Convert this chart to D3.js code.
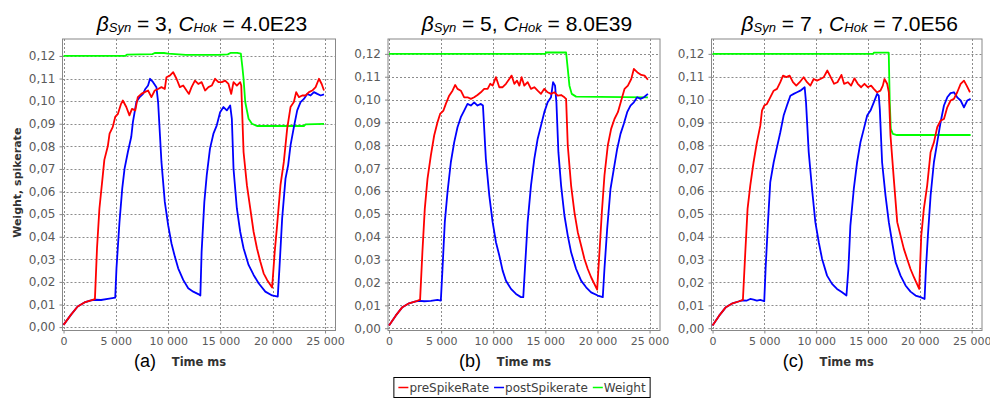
<!DOCTYPE html>
<html>
<head>
<meta charset="utf-8">
<script src="https://cdn.jsdelivr.net/npm/d3@7"></script>
<style>
body { margin: 0; background: #fff; }
svg { display: block; font-family: "DejaVu Sans", sans-serif; }
</style>
</head>
<body>
<div id="chart"></div>
<script>
// ticks, labels
const xTicks = [0, 5000, 10000, 15000, 20000, 25000];
const yTicks = [0, 0.01, 0.02, 0.03, 0.04, 0.05, 0.06, 0.07, 0.08, 0.09, 0.10, 0.11, 0.12];
const seriesNames = ["preSpikeRate", "postSpikerate", "Weight"];
const seriesColors = ["#ff0000", "#0000ff", "#00ff00"];
const panelLabels = ["(a)", "(b)", "(c)"];
const betaSyn = ["3", "5", "7 "];
const cHok = ["4.0E23", "8.0E39", "7.0E56"];

// panel (a)  [time ms, value]
const preA = [[0,0.0010],[700,0.0054],[1350,0.0091],[2000,0.0109],[2630,0.0118],[3000,0.0124],
  [3200,0.0350],[3430,0.0525],[3750,0.0670],[3900,0.0740],[4230,0.0800],[4400,0.0856],[4700,0.0885],[4940,0.0930],[5200,0.0944],[5500,0.0988],[5670,0.1003],[6000,0.0974],[6300,0.0937],[6540,0.0966],[6860,0.0959],[7100,0.1018],[7440,0.1032],[7760,0.1040],[8080,0.1047],[8400,0.1018],[8720,0.1047],[9040,0.1054],[9360,0.1062],[9680,0.1054],[9840,0.1106],[10160,0.1113],[10480,0.1128],[10800,0.1099],[11120,0.1062],[11440,0.1069],[11760,0.1047],[11990,0.1032],[12240,0.1062],[12560,0.1091],[12880,0.1076],[13200,0.1084],[13530,0.1047],[13850,0.1062],[14170,0.1069],[14490,0.1099],[14810,0.1084],[15130,0.1084],[15450,0.1091],[15770,0.1076],[16030,0.1032],[16250,0.1084],[16570,0.1069],[16890,0.1084],[16990,0.1069],
  [17210,0.0775],[17530,0.0628],[17850,0.0525],[18170,0.0422],[18490,0.0349],[18810,0.0290],[19130,0.0238],[19460,0.0209],[19940,0.0175],
  [20190,0.0334],[20420,0.0451],[20740,0.0628],[21060,0.0731],[21380,0.0878],[21700,0.0974],[22020,0.0996],[22240,0.1040],[22500,0.1018],[22820,0.1025],[23140,0.1025],[23460,0.1040],[23780,0.1047],[24100,0.1062],[24420,0.1099],[24680,0.1076],[24900,0.1047]];
const postA = [[0,0.0010],[700,0.0054],[1350,0.0091],[2000,0.0109],[2630,0.0118],[3000,0.0121],[3590,0.0120],[4230,0.0125],[4940,0.0130],
  [5060,0.0260],[5350,0.0466],[5610,0.0613],[5830,0.0700],[6150,0.0775],[6470,0.0841],[6630,0.0907],[6960,0.0996],[7280,0.1018],[7600,0.1032],[7820,0.1054],[8080,0.1069],[8270,0.1099],[8560,0.1084],[8880,0.1062],[9040,0.0996],
  [9360,0.0731],[9680,0.0554],[10000,0.0451],[10320,0.0370],[10640,0.0312],[10960,0.0260],[11440,0.0209],[11920,0.0172],[12400,0.0157],[12880,0.0146],[13080,0.0140],
  [13200,0.0334],[13460,0.0554],[13690,0.0672],[14000,0.0790],[14330,0.0856],[14650,0.0893],[14970,0.0951],[15290,0.0974],[15610,0.0959],[15930,0.0981],[16090,0.0922],
  [16250,0.0701],[16570,0.0525],[16890,0.0422],[17210,0.0349],[17690,0.0275],[18170,0.0231],[18650,0.0194],[19290,0.0157],[19940,0.0140],[20480,0.0135],
  [20640,0.0260],[20900,0.0481],[21220,0.0657],[21470,0.0716],[21700,0.0804],[22020,0.0885],[22340,0.0959],[22660,0.0996],[22980,0.1010],[23300,0.1032],[23620,0.1025],[23940,0.1040],[24260,0.1032],[24580,0.1025],[24900,0.1030]];
const weightA = [[0,0.1200],[5900,0.1200],[6050,0.1206],[8500,0.1208],[8720,0.1213],[9600,0.1213],[10000,0.1210],[11700,0.1205],[14800,0.1205],[15700,0.1207],[16000,0.1214],[16600,0.1214],[16950,0.1210],[17100,0.1150],[17210,0.1099],[17370,0.0996],[17690,0.0922],[18010,0.0900],[18490,0.0890],[22980,0.0890],[23140,0.0897],[24900,0.0899]];

// panel (b)
const preB = [[0,0.0012],[640,0.0055],[1280,0.0092],[1920,0.0109],[2560,0.0117],[2980,0.0125],
  [3200,0.0332],[3430,0.0522],[3690,0.0653],[4010,0.0755],[4330,0.0843],[4650,0.0901],[4900,0.0937],[5220,0.0952],[5450,0.0981],[5770,0.1017],[6090,0.1039],[6350,0.1064],[6570,0.1047],[6890,0.1039],[7210,0.1010],[7530,0.1010],[7850,0.1003],[8170,0.1010],[8490,0.1020],[8810,0.1032],[9130,0.1047],[9460,0.1047],[9710,0.1069],[9940,0.1061],[10260,0.1098],[10580,0.1054],[10900,0.1054],[11220,0.1069],[11540,0.1090],[11760,0.1105],[12020,0.1069],[12280,0.1083],[12500,0.1061],[12720,0.1098],[12980,0.1061],[13300,0.1076],[13620,0.1047],[13940,0.1054],[14260,0.1039],[14580,0.1025],[14900,0.1047],[15220,0.1032],[15540,0.1025],[15870,0.1032],[16190,0.1017],[16510,0.1020],[16830,0.1010],[16990,0.1003],
  [17150,0.0799],[17470,0.0624],[17790,0.0507],[18110,0.0420],[18430,0.0362],[18750,0.0303],[19070,0.0259],[19390,0.0223],[19970,0.0169],
  [20190,0.0332],[20420,0.0507],[20670,0.0668],[20990,0.0799],[21310,0.0872],[21630,0.0915],[21960,0.0945],[22280,0.0996],[22600,0.1047],[22920,0.1061],[23240,0.1090],[23490,0.1134],[23880,0.1117],[24200,0.1108],[24520,0.1105],[24840,0.1087]];
const postB = [[0,0.0012],[640,0.0055],[1280,0.0092],[1920,0.0109],[2560,0.0117],[2980,0.0120],[3370,0.0118],[4010,0.0120],[4650,0.0124],[4970,0.0121],
  [5130,0.0260],[5350,0.0464],[5610,0.0595],[5930,0.0726],[6250,0.0813],[6570,0.0879],[6890,0.0923],[7210,0.0952],[7530,0.0981],[7850,0.0974],[8170,0.0988],[8490,0.0974],[8810,0.0981],[9010,0.0974],
  [9290,0.0741],[9620,0.0580],[9940,0.0464],[10260,0.0376],[10580,0.0318],[10900,0.0252],[11220,0.0208],[11700,0.0172],[12180,0.0150],[12660,0.0136],[12880,0.0136],
  [13040,0.0260],[13300,0.0464],[13620,0.0624],[13940,0.0741],[14260,0.0828],[14580,0.0886],[14900,0.0945],[15220,0.0988],[15540,0.1010],[15740,0.1076],[15930,0.1061],[16060,0.0988],
  [16250,0.0770],[16510,0.0624],[16830,0.0493],[17150,0.0405],[17470,0.0332],[17950,0.0259],[18430,0.0208],[18910,0.0179],[19390,0.0157],[20030,0.0143],[20510,0.0136],
  [20670,0.0260],[20930,0.0434],[21250,0.0609],[21570,0.0697],[21890,0.0784],[22210,0.0850],[22530,0.0894],[22850,0.0945],[23170,0.0974],[23490,0.0988],[23810,0.1010],[24130,0.1003],[24460,0.1010],[24840,0.1025]];
const weightB = [[0,0.1200],[15000,0.1200],[15060,0.1206],[16990,0.1206],[17150,0.1134],[17310,0.1061],[17530,0.1025],[17950,0.1013],[24840,0.1010]];

// panel (c)
const preC = [[0,0.0012],[640,0.0055],[1290,0.0092],[1930,0.0109],[2580,0.0118],[2930,0.0124],
  [3160,0.0332],[3380,0.0522],[3640,0.0624],[3960,0.0726],[4280,0.0813],[4610,0.0886],[4770,0.0952],[4990,0.0974],[5250,0.0981],[5570,0.1010],[5900,0.1039],[6220,0.1047],[6540,0.1076],[6800,0.1105],[7120,0.1098],[7440,0.1105],[7760,0.1076],[8080,0.1061],[8410,0.1076],[8790,0.1098],[9120,0.1076],[9440,0.1061],[9760,0.1090],[10080,0.1083],[10410,0.1090],[10730,0.1098],[11080,0.1127],[11400,0.1098],[11730,0.1069],[12050,0.1076],[12440,0.1108],[12690,0.1069],[13050,0.1076],[13370,0.1061],[13690,0.1093],[14010,0.1069],[14340,0.1054],[14660,0.1069],[14980,0.1054],[15300,0.1061],[15560,0.1047],[15880,0.1032],[16200,0.1039],[16430,0.1061],[16590,0.1090],[16850,0.1069],[17010,0.1032],
  [17170,0.0843],[17490,0.0653],[17820,0.0464],[18140,0.0405],[18460,0.0347],[18780,0.0303],[19100,0.0259],[19430,0.0223],[19940,0.0172],
  [20140,0.0405],[20390,0.0522],[20710,0.0624],[21040,0.0770],[21360,0.0813],[21680,0.0879],[22000,0.0908],[22330,0.0915],[22650,0.0966],[22970,0.0996],[23290,0.1003],[23610,0.1032],[23940,0.1069],[24260,0.1083],[24520,0.1061],[24840,0.1032]];
const postC = [[0,0.0012],[640,0.0055],[1290,0.0092],[1930,0.0109],[2580,0.0118],[2930,0.0122],[3320,0.0121],[3640,0.0128],[3960,0.0125],[4280,0.0121],[4610,0.0124],[4990,0.0118],
  [5120,0.0260],[5350,0.0464],[5570,0.0639],[5900,0.0726],[6220,0.0792],[6540,0.0857],[6860,0.0930],[7180,0.0974],[7510,0.1017],[7830,0.1025],[8150,0.1032],[8470,0.1039],[8890,0.1054],[9020,0.0988],
  [9280,0.0770],[9600,0.0609],[9920,0.0464],[10250,0.0376],[10570,0.0303],[11050,0.0230],[11530,0.0194],[12010,0.0172],[12500,0.0157],[12920,0.0143],
  [13110,0.0260],[13300,0.0449],[13630,0.0609],[13950,0.0726],[14270,0.0813],[14600,0.0872],[14920,0.0930],[15240,0.0952],[15560,0.0988],[15880,0.1025],[16040,0.1017],[16140,0.0959],
  [16360,0.0726],[16690,0.0580],[17010,0.0464],[17330,0.0376],[17660,0.0289],[18140,0.0230],[18620,0.0187],[19100,0.0160],[19590,0.0143],[20070,0.0136],[20460,0.0128],
  [20590,0.0260],[20780,0.0405],[21040,0.0580],[21360,0.0726],[21680,0.0813],[22000,0.0900],[22330,0.0974],[22650,0.1010],[22970,0.1028],[23290,0.1032],[23610,0.1010],[23940,0.0996],[24260,0.0966],[24580,0.0996],[24900,0.1003]];
const weightC = [[0,0.1200],[15500,0.1200],[15560,0.1205],[17000,0.1205],[17100,0.0989],[17200,0.0872],[17400,0.0850],[17790,0.0845],[24900,0.0845]];

const panelSeries = [[preA, postA, weightA], [preB, postB, weightB], [preC, postC, weightC]];

// layout
const width = 990, height = 399;
const frameLeft = [62.5, 388, 711.5];
const frameRight = [335.5, 660, 982];
const frameTop = 39, frameBottom = 330.5;
const yLow = [-0.0015, -0.001, -0.001];
const yHigh = [0.1275, 0.1265, 0.1265];

const locale = d3.formatLocale({decimal: ",", thousands: "\u00a0", grouping: [3], currency: ["", ""]});
const fmtX = locale.format(",d");
const fmtY = locale.format(".2f");

const svg = d3.select("#chart")
    .append("svg")
    .attr("width", width)
    .attr("height", height);

panelSeries.forEach((series, i) => {
    const g = svg.append("g");

    const xScale = d3.scaleLinear()
        .domain([-100, 26000])
        .range([frameLeft[i], frameRight[i]]);
    const yScale = d3.scaleLinear()
        .domain([yLow[i], yHigh[i]])
        .range([frameBottom, frameTop]);

    // grid
    g.selectAll("line.vgrid")
        .data(xTicks)
        .join("line")
        .attr("class", "vgrid")
        .attr("x1", d => Math.round(xScale(d)) + 0.5)
        .attr("x2", d => Math.round(xScale(d)) + 0.5)
        .attr("y1", frameTop)
        .attr("y2", frameBottom)
        .attr("stroke", "#8c8c8c")
        .attr("stroke-dasharray", "2,2");
    g.selectAll("line.hgrid")
        .data(yTicks)
        .join("line")
        .attr("class", "hgrid")
        .attr("x1", frameLeft[i])
        .attr("x2", frameRight[i])
        .attr("y1", d => Math.round(yScale(d)) + 0.5)
        .attr("y2", d => Math.round(yScale(d)) + 0.5)
        .attr("stroke", "#8c8c8c")
        .attr("stroke-dasharray", "2,2");

    // axes
    const xAxis = g.append("g")
        .attr("transform", `translate(0,${frameBottom})`)
        .call(d3.axisBottom(xScale).tickValues(xTicks).tickFormat(fmtX).tickSize(3).tickPadding(4));
    const yAxis = g.append("g")
        .attr("transform", `translate(${frameLeft[i]},0)`)
        .call(d3.axisLeft(yScale).tickValues(yTicks).tickFormat(fmtY).tickSize(3).tickPadding(4));
    [xAxis, yAxis].forEach(ax => {
        ax.select(".domain").remove();
        ax.selectAll("line").attr("stroke", "#888");
        ax.selectAll("text")
            .attr("fill", "#5a5a5a")
            .style("font-family", "'DejaVu Sans', sans-serif")
            .style("font-size", "12px");
    });
    xAxis.selectAll("text").style("font-size", "11px");

    // frame
    g.append("rect")
        .attr("x", frameLeft[i])
        .attr("y", frameTop)
        .attr("width", frameRight[i] - frameLeft[i])
        .attr("height", frameBottom - frameTop)
        .attr("fill", "none")
        .attr("stroke", "#888");

    // lines, weight drawn first so the rates sit on top
    const line = d3.line()
        .x(d => xScale(d[0]))
        .y(d => yScale(d[1]));
    [2, 1, 0].forEach(s => {
        g.append("path")
            .datum(series[s])
            .attr("d", line)
            .attr("fill", "none")
            .attr("stroke", seriesColors[s])
            .attr("stroke-width", 1.8)
            .attr("stroke-linejoin", "round");
    });

    // title
    const cx = (frameLeft[i] + frameRight[i]) / 2 + 3;
    const title = g.append("text")
        .attr("x", cx)
        .attr("y", 31)
        .attr("text-anchor", "middle")
        .style("font-family", "'Liberation Sans', Arial, sans-serif")
        .style("font-size", "21px")
        .attr("fill", "#000");
    title.append("tspan").attr("font-style", "italic").text("\u03b2");
    title.append("tspan").attr("font-style", "italic").attr("font-size", "13px").attr("dy", 1).text("Syn");
    title.append("tspan").attr("dy", -1).text(" = " + betaSyn[i] + ", ");
    title.append("tspan").attr("font-style", "italic").text("C");
    title.append("tspan").attr("font-style", "italic").attr("font-size", "13px").attr("dy", 1).text("Hok");
    title.append("tspan").attr("dy", -1).text(" = " + cHok[i]);

    // x label
    g.append("text")
        .attr("x", cx - 3)
        .attr("y", 366)
        .attr("text-anchor", "middle")
        .style("font-family", "'DejaVu Sans', sans-serif")
        .style("font-size", "11.5px")
        .style("font-weight", "bold")
        .attr("fill", "#333")
        .text("Time ms");
    g.append("text")
        .attr("x", cx - 46)
        .attr("y", 367)
        .attr("text-anchor", "end")
        .style("font-family", "'Liberation Sans', Arial, sans-serif")
        .style("font-size", "18px")
        .attr("fill", "#000")
        .text(panelLabels[i]);
});

// y label (first panel only)
svg.append("text")
    .attr("transform", `translate(21,${(frameTop + frameBottom) / 2 - 2}) rotate(-90)`)
    .attr("text-anchor", "middle")
    .style("font-family", "'DejaVu Sans', sans-serif")
    .style("font-size", "11px")
    .style("font-weight", "bold")
    .attr("fill", "#333")
    .text("Weight, spikerate");

// legend
const legend = svg.append("g");
let lx = 0;
seriesNames.forEach((name, s) => {
    const item = legend.append("g").attr("transform", `translate(${lx},0)`);
    item.append("line")
        .attr("x1", 0).attr("x2", 10)
        .attr("y1", 0.5).attr("y2", 0.5)
        .attr("stroke", seriesColors[s])
        .attr("stroke-width", 1.5);
    const t = item.append("text")
        .attr("x", 11)
        .attr("y", 4.5)
        .style("font-family", "'DejaVu Sans', sans-serif")
        .style("font-size", "12px")
        .attr("fill", "#404040")
        .text(name);
    lx += 11 + t.node().getComputedTextLength() + 5;
});
lx -= 5;
const legendX = 522 - lx / 2;
legend.attr("transform", `translate(${legendX},387)`);
svg.insert("rect", "g")
    .attr("x", legendX - 4.5)
    .attr("y", 377.5)
    .attr("width", lx + 9)
    .attr("height", 20)
    .attr("fill", "#fff")
    .attr("stroke", "#000");
</script>
</body>
</html>
